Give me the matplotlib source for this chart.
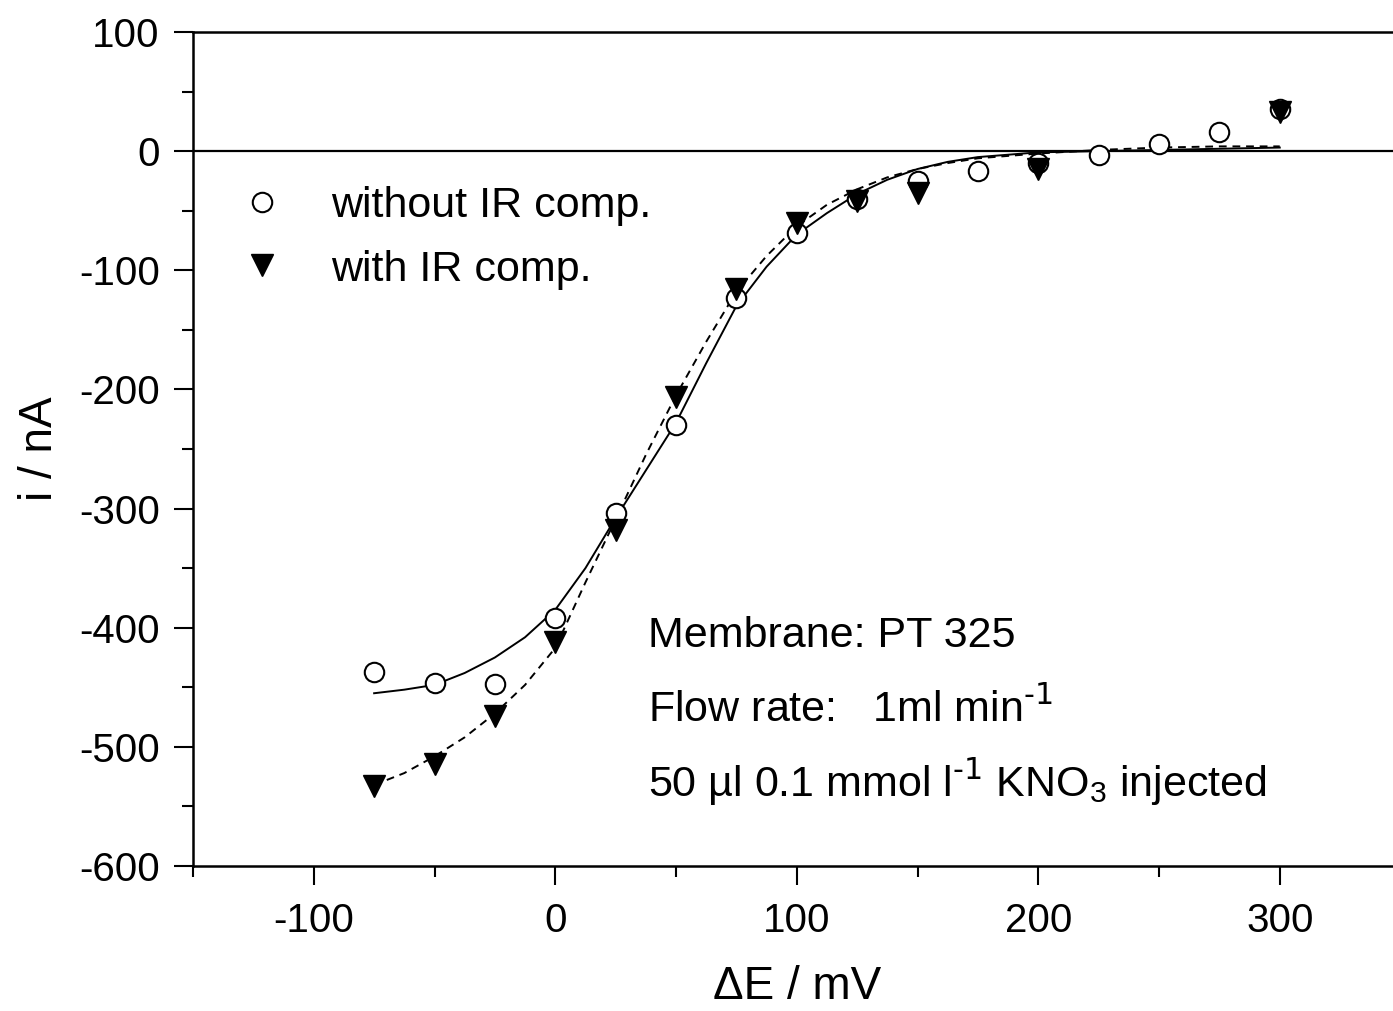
import matplotlib
matplotlib.use("Agg")
import matplotlib.pyplot as plt
from matplotlib.lines import Line2D

plt.rcParams['font.family'] = ['Liberation Sans', 'DejaVu Sans']
plt.rcParams['mathtext.default'] = 'regular'
plt.rcParams['axes.unicode_minus'] = False

# measured points
x_pts = [-75, -50, -25, 0, 25, 50, 75, 100, 125, 150, 175, 200, 225, 250, 275, 300]
i_without = [-437, -446, -447, -392, -304, -230, -123, -69, -40, -25, -17, -10, -3, 6, 16, 35]
x_tri = [-75, -50, -25, 0, 25, 50, 75, 100, 125, 150, 200, 300]
i_with = [-533, -514, -474, -412, -318, -206, -116, -60, -42, -35, -15, 33]

# fitted curves
x_fit = [-75, -62.5, -50, -37.5, -25, -12.5, 0, 12.5, 25, 37.5, 50, 62.5, 75, 87.5,
         100, 112.5, 125, 137.5, 150, 162.5, 175, 200, 225, 250, 275, 300]
fit_without = [-455, -452, -448, -438, -425, -408, -385, -350, -308, -268, -228, -178, -130, -97,
               -70, -52, -36, -24, -15, -9, -5, -1, 0, 1, 2, 3]
fit_with = [-532, -522, -508, -492, -472, -448, -417, -362, -309, -255, -205, -160, -118, -88,
            -63, -45, -32, -22, -15, -10, -6, -2, 1, 3, 4, 4]

xticks = [-100, 0, 100, 200, 300]
yticks = [100, 0, -100, -200, -300, -400, -500, -600]

fig = plt.figure(figsize=(13.93, 10.11), dpi=100)
ax = fig.add_axes([193/1393, 145/1011, 1207.5/1393, 834/1011])

ax.axhline(0, color='black', lw=1.6, zorder=1)
ax.plot(x_fit, fit_without, '-', color='black', lw=1.4, zorder=2)
ax.plot(x_fit, fit_with, '--', color='black', lw=1.4, dashes=(4, 3), zorder=2)
ax.plot(x_pts, i_without, 'o', mfc='white', mec='black', mew=1.5, ms=14, zorder=3)
ax.plot(x_tri, i_with, 'v', mfc='black', mec='black', ms=16, zorder=4)

ax.set_xlim(-150, 350)
ax.set_ylim(-600, 100)
ax.set_xticks(xticks)
ax.set_xticks([-150, -50, 50, 150, 250], minor=True)
ax.set_yticks(yticks)
ax.set_yticks([50, -50, -150, -250, -350, -450, -550], minor=True)
ax.tick_params(axis='both', which='major', direction='out', length=14, width=1.5, labelsize=29)
ax.tick_params(axis='both', which='minor', direction='out', length=8, width=1.5)
ax.tick_params(axis='x', pad=12)
ax.tick_params(axis='y', pad=10)
for s in ['left', 'bottom', 'top']:
    ax.spines[s].set_linewidth(1.8)
ax.spines['right'].set_visible(False)

ax.set_xlabel('ΔE / mV', fontsize=33, labelpad=18)
ax.set_ylabel('i / nA', fontsize=33, labelpad=12)

handles = [Line2D([], [], ls='none', marker='o', mfc='white', mec='black', mew=1.5, ms=14),
           Line2D([], [], ls='none', marker='v', mfc='black', mec='black', ms=16)]
ax.legend(handles, ['without IR comp.', 'with IR comp.'], loc='upper left',
          bbox_to_anchor=(0.004, 0.862), frameon=False, fontsize=31,
          handletextpad=1.0, labelspacing=0.55, handlelength=1.2)

ax.text(38.5, -407, 'Membrane: PT 325', fontsize=31, va='center')
ax.text(38.5, -469, r'Flow rate:   1ml min$^{\text{-1}}$', fontsize=31, va='center')
ax.text(38.5, -530, r'50 µl 0.1 mmol l$^{\text{-1}}$ KNO$_{3}$ injected', fontsize=31, va='center')

fig.savefig('out.png', dpi=100)
